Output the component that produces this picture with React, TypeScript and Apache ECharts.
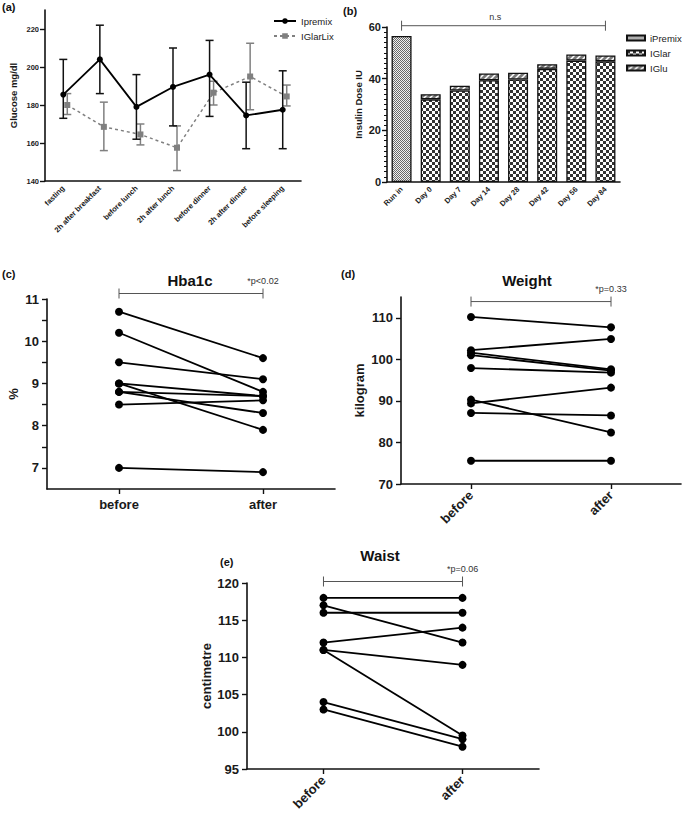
import React, { useEffect, useRef } from 'react';
import * as echarts from 'echarts';

// ---------- (a) glucose profile ----------
const glucoseCategories = ['fasting', '2h after breakfast', 'before lunch', '2h after lunch', 'before dinner', '2h after dinner', 'before sleeping'];
const ipremixMean = [185.5, 204, 179, 189.5, 196, 174.5, 177.5];
const ipremixLow = [173, 186, 162, 169, 174, 157, 157];
const ipremixHigh = [204, 222, 196, 210, 214, 192, 198];
const iglarlixMean = [180, 168.5, 164.5, 157.5, 186.5, 195, 184.5];
const iglarlixLow = [175, 156, 159, 145.5, 180, 177.5, 179.5];
const iglarlixHigh = [186, 181.5, 170, 169, 192.5, 212.5, 190.5];
const glucoseTicks = [140, 160, 180, 200, 220];

// ---------- (b) insulin dose ----------
const doseCategories = ['Run in', 'Day 0', 'Day 7', 'Day 14', 'Day 28', 'Day 42', 'Day 56', 'Day 84'];
const ipremixDose = [56.5, '-', '-', '-', '-', '-', '-', '-'];
const iglarDose = ['-', 32, 35.4, 39.4, 39.7, 43.8, 47, 46.7];
const igluDose = ['-', 2, 1.9, 2.6, 2.6, 1.8, 2.4, 2.3];

// ---------- (c) Hba1c ----------
const pairCategories = ['before', 'after'];
const hba1cBefore = [10.7, 10.2, 9.5, 9.0, 9.0, 8.8, 8.8, 8.5, 7.0];
const hba1cAfter = [9.6, 8.8, 9.1, 8.7, 7.9, 8.7, 8.3, 8.6, 6.9];
const hba1cLabels = [7, 8, 9, 10, 11];
const hba1cTicks = [7, 7.5, 8, 8.5, 9, 9.5, 10, 10.5, 11];

// ---------- (d) Weight ----------
const weightBefore = [110.2, 102.2, 101.6, 101.0, 97.9, 90.3, 89.4, 87.1, 75.6];
const weightAfter = [107.7, 104.9, 97.6, 97.3, 96.8, 82.4, 93.2, 86.5, 75.6];
const weightTicks = [70, 80, 90, 100, 110];

// ---------- (e) Waist ----------
const waistBefore = [118, 117, 116, 112, 111, 111, 104, 103];
const waistAfter = [118, 112, 116, 114, 109, 99.5, 99, 98];

// brackets: [fromIndex, toIndex, level, labelPosition]
const bracketB = [0, 7, 60.5, 0.46];
const bracketC = [0, 1, 11.13, 1];
const bracketD = [0, 1, 113.9, 1];
const bracketE = [0, 1, 120.2, 1];

const FONT = '"Liberation Sans", Arial, Helvetica, sans-serif';
const INK = '#111';

function makePattern(w: number, h: number, draw: (ctx: CanvasRenderingContext2D) => void) {
  const c = document.createElement('canvas');
  c.width = w;
  c.height = h;
  const ctx = c.getContext('2d')!;
  draw(ctx);
  return { image: c as any, repeat: 'repeat' as const };
}

const errRender = (color: string) => (params: any, api: any) => {
  const x = api.value(0);
  const hi = api.coord([x, api.value(2)]);
  const lo = api.coord([x, api.value(1)]);
  const w = 4;
  const style = { stroke: color, lineWidth: 1.5 };
  return {
    type: 'group',
    children: [
      { type: 'line', shape: { x1: hi[0], y1: hi[1], x2: lo[0], y2: lo[1] }, style },
      { type: 'line', shape: { x1: hi[0] - w, y1: hi[1], x2: hi[0] + w, y2: hi[1] }, style },
      { type: 'line', shape: { x1: lo[0] - w, y1: lo[1], x2: lo[0] + w, y2: lo[1] }, style },
    ],
  };
};

const bracketRender = (text: string, gap: number) => (params: any, api: any) => {
  const y = api.value(2);
  const a = api.coord([api.value(0), y]);
  const b = api.coord([api.value(1), y]);
  const pos = api.value(3);
  const style = { stroke: '#555', lineWidth: 1 };
  const cap = 5;
  return {
    type: 'group',
    children: [
      { type: 'line', shape: { x1: a[0], y1: a[1], x2: b[0], y2: b[1] }, style },
      { type: 'line', shape: { x1: a[0], y1: a[1] - cap, x2: a[0], y2: a[1] + cap }, style },
      { type: 'line', shape: { x1: b[0], y1: b[1] - cap, x2: b[0], y2: b[1] + cap }, style },
      {
        type: 'text',
        x: a[0] + (b[0] - a[0]) * pos,
        y: a[1] - gap,
        style: { text, fill: '#333', font: `9px ${FONT}`, textAlign: 'center', textVerticalAlign: 'bottom' },
      },
    ],
  };
};

const axisLine = { onZero: false, lineStyle: { color: INK, width: 1.6 } };
const axisTick = (len: number) => ({ length: len, lineStyle: { color: INK, width: 1.4 } });

function pairSeries(before: number[], after: number[], axis: number) {
  return before.map((b, i) => ({
    type: 'line',
    xAxisIndex: axis,
    yAxisIndex: axis,
    data: [[0, b], [1, after[i]]],
    symbol: 'circle',
    symbolSize: 8,
    itemStyle: { color: '#000' },
    lineStyle: { color: '#000', width: 1.8 },
    z: 3,
  }));
}

export default function App() {
  const ref = useRef<HTMLDivElement>(null);
  useEffect(() => {
    const chart = echarts.init(ref.current!, undefined, { renderer: 'svg' });

    const premixPat = makePattern(2, 2, (ctx) => {
      ctx.fillStyle = '#f2f2f2';
      ctx.fillRect(0, 0, 2, 2);
      ctx.fillStyle = '#6a6a6a';
      ctx.fillRect(0, 0, 1, 1);
      ctx.fillRect(1, 1, 1, 1);
    });
    const glarPat = makePattern(6, 6, (ctx) => {
      ctx.fillStyle = '#ffffff';
      ctx.fillRect(0, 0, 6, 6);
      ctx.fillStyle = '#333333';
      ctx.fillRect(0, 0, 3, 3);
      ctx.fillRect(3, 3, 3, 3);
    });
    const gluPat = makePattern(6, 6, (ctx) => {
      ctx.fillStyle = '#7a7a7a';
      ctx.fillRect(0, 0, 6, 6);
      ctx.strokeStyle = '#ffffff';
      ctx.lineWidth = 1.5;
      ctx.beginPath();
      ctx.moveTo(-1, 7); ctx.lineTo(7, -1);
      ctx.moveTo(-4, 4); ctx.lineTo(4, -4);
      ctx.moveTo(2, 10); ctx.lineTo(10, 2);
      ctx.stroke();
    });

    const valueLabel = (size: number) => ({ color: '#1a1a1a', fontSize: size, fontWeight: 'bold' as const, fontFamily: FONT });

    const option: any = {
      animation: false,
      backgroundColor: '#ffffff',
      textStyle: { fontFamily: FONT },
      grid: [
        { left: 45, top: 10, width: 256, height: 171 },
        { left: 49, top: 10, width: 256, height: 171 },
        { left: 387, top: 27, width: 233, height: 155 },
        { left: 47, top: 299, width: 288, height: 190 },
        { left: 401, top: 297, width: 280, height: 187 },
        { left: 247, top: 583, width: 292, height: 186 },
      ],
      xAxis: [
        {
          type: 'category', gridIndex: 0, data: glucoseCategories,
          axisLine, axisTick: { ...axisTick(5), alignWithLabel: true },
          axisLabel: { ...valueLabel(7.5), rotate: 45, margin: 6, interval: 0 },
        },
        { type: 'category', gridIndex: 1, data: glucoseCategories, show: false },
        {
          type: 'category', gridIndex: 2, data: doseCategories,
          axisLine, axisTick: { ...axisTick(5), alignWithLabel: true },
          axisLabel: { ...valueLabel(7.5), rotate: 45, margin: 6, interval: 0 },
        },
        {
          type: 'value', gridIndex: 3, min: -0.5, max: 1.5,
          axisLine, axisTick: { ...axisTick(5), customValues: [0, 1] }, splitLine: { show: false },
          axisLabel: { ...valueLabel(13), margin: 9, customValues: [0, 1], formatter: (v: number) => pairCategories[v] },
        },
        {
          type: 'value', gridIndex: 4, min: -0.5, max: 1.5,
          axisLine, axisTick: { ...axisTick(5), customValues: [0, 1] }, splitLine: { show: false },
          axisLabel: { ...valueLabel(13), rotate: 45, margin: 9, customValues: [0, 1], formatter: (v: number) => pairCategories[v] },
        },
        {
          type: 'value', gridIndex: 5, min: -0.55, max: 1.55,
          axisLine, axisTick: { ...axisTick(5), customValues: [0, 1] }, splitLine: { show: false },
          axisLabel: { ...valueLabel(13), rotate: 45, margin: 9, customValues: [0, 1], formatter: (v: number) => pairCategories[v] },
        },
      ],
      yAxis: [
        {
          type: 'value', gridIndex: 0, min: 140, max: 230,
          name: 'Glucose mg/dl', nameLocation: 'middle', nameGap: 27,
          nameTextStyle: { ...valueLabel(9.5) },
          axisLine: { ...axisLine, show: true }, axisTick: { ...axisTick(5), show: true, customValues: glucoseTicks },
          axisLabel: { ...valueLabel(7.5), margin: 6, customValues: glucoseTicks },
          splitLine: { show: false },
        },
        { type: 'value', gridIndex: 1, min: 140, max: 230, show: false, splitLine: { show: false } },
        {
          type: 'value', gridIndex: 2, min: 0, max: 60, interval: 20,
          name: 'Insulin Dose IU', nameLocation: 'middle', nameGap: 24,
          nameTextStyle: { ...valueLabel(9.5) },
          axisLine: { ...axisLine, show: true }, axisTick: { ...axisTick(5), show: true },
          minorTick: { show: true, splitNumber: 10, length: 3, lineStyle: { color: INK, width: 1 } },
          axisLabel: { ...valueLabel(11), margin: 6 },
          splitLine: { show: false },
        },
        {
          type: 'value', gridIndex: 3, min: 6.5, max: 11,
          name: '%', nameLocation: 'middle', nameGap: 27,
          nameTextStyle: { ...valueLabel(13) },
          axisLine: { ...axisLine, show: true }, axisTick: { ...axisTick(5), show: true, customValues: hba1cTicks },
          axisLabel: { ...valueLabel(13), margin: 8, customValues: hba1cLabels },
          splitLine: { show: false },
        },
        {
          type: 'value', gridIndex: 4, min: 70, max: 115,
          name: 'kilogram', nameLocation: 'middle', nameGap: 35,
          nameTextStyle: { ...valueLabel(13) },
          axisLine: { ...axisLine, show: true }, axisTick: { ...axisTick(5), show: true, customValues: weightTicks },
          axisLabel: { ...valueLabel(13), margin: 8, customValues: weightTicks },
          splitLine: { show: false },
        },
        {
          type: 'value', gridIndex: 5, min: 95, max: 120, interval: 5,
          name: 'centimetre', nameLocation: 'middle', nameGap: 30,
          nameTextStyle: { ...valueLabel(13) },
          axisLine: { ...axisLine, show: true }, axisTick: { ...axisTick(5), show: true },
          axisLabel: { ...valueLabel(13), margin: 8 },
          splitLine: { show: false },
        },
      ],
      legend: [
        {
          data: ['Ipremix', 'IGlarLix'], left: 268, top: 11, orient: 'vertical',
          itemWidth: 22, itemHeight: 7, itemGap: 5,
          textStyle: { fontSize: 9.5, color: '#222', fontFamily: FONT },
        },
        {
          data: ['iPremix', 'IGlar', 'IGlu'], left: 621, top: 28, orient: 'vertical', icon: 'rect',
          itemWidth: 18, itemHeight: 5, itemGap: 5,
          textStyle: { fontSize: 9.5, color: '#222', fontFamily: FONT },
        },
      ],
      graphic: [
        { type: 'text', x: 2, y: 7, style: { text: '(a)', font: `bold 11px ${FONT}`, fill: INK, textVerticalAlign: 'middle' } },
        { type: 'text', x: 343, y: 11, style: { text: '(b)', font: `bold 11px ${FONT}`, fill: INK, textVerticalAlign: 'middle' } },
        { type: 'text', x: 2, y: 274, style: { text: '(c)', font: `bold 11px ${FONT}`, fill: INK, textVerticalAlign: 'middle' } },
        { type: 'text', x: 341, y: 274, style: { text: '(d)', font: `bold 11px ${FONT}`, fill: INK, textVerticalAlign: 'middle' } },
        { type: 'text', x: 220, y: 562, style: { text: '(e)', font: `bold 11px ${FONT}`, fill: INK, textVerticalAlign: 'middle' } },
        { type: 'text', x: 190, y: 280, style: { text: 'Hba1c', font: `bold 15px ${FONT}`, fill: INK, textAlign: 'center', textVerticalAlign: 'middle' } },
        { type: 'text', x: 527, y: 280, style: { text: 'Weight', font: `bold 15px ${FONT}`, fill: INK, textAlign: 'center', textVerticalAlign: 'middle' } },
        { type: 'text', x: 380, y: 555, style: { text: 'Waist', font: `bold 15px ${FONT}`, fill: INK, textAlign: 'center', textVerticalAlign: 'middle' } },
      ],
      series: [
        {
          type: 'custom', xAxisIndex: 1, yAxisIndex: 1, renderItem: errRender('#808080'),
          data: iglarlixMean.map((_, i) => [i, iglarlixLow[i], iglarlixHigh[i]]), z: 2,
        },
        {
          name: 'IGlarLix', type: 'line', xAxisIndex: 1, yAxisIndex: 1, data: iglarlixMean,
          symbol: 'rect', symbolSize: 6, itemStyle: { color: '#808080' },
          lineStyle: { color: '#808080', width: 1.5, type: [3, 3] }, z: 3,
        },
        {
          type: 'custom', xAxisIndex: 0, yAxisIndex: 0, renderItem: errRender('#111'),
          data: ipremixMean.map((_, i) => [i, ipremixLow[i], ipremixHigh[i]]), z: 4,
        },
        {
          name: 'Ipremix', type: 'line', xAxisIndex: 0, yAxisIndex: 0, data: ipremixMean,
          symbol: 'circle', symbolSize: 6, itemStyle: { color: '#000' },
          lineStyle: { color: '#000', width: 1.8 }, z: 5,
        },
        {
          name: 'iPremix', type: 'bar', stack: 'dose', xAxisIndex: 2, yAxisIndex: 2, data: ipremixDose,
          barWidth: 20, itemStyle: { color: premixPat, borderColor: INK, borderWidth: 1.3 },
        },
        {
          name: 'IGlar', type: 'bar', stack: 'dose', xAxisIndex: 2, yAxisIndex: 2, data: iglarDose,
          barWidth: 20, itemStyle: { color: glarPat, borderColor: INK, borderWidth: 1.3 },
        },
        {
          name: 'IGlu', type: 'bar', stack: 'dose', xAxisIndex: 2, yAxisIndex: 2, data: igluDose,
          barWidth: 20, itemStyle: { color: gluPat, borderColor: INK, borderWidth: 1.3 },
        },
        { type: 'custom', xAxisIndex: 2, yAxisIndex: 2, renderItem: bracketRender('n.s', 4), data: [bracketB], clip: false },
        ...pairSeries(hba1cBefore, hba1cAfter, 3),
        { type: 'custom', xAxisIndex: 3, yAxisIndex: 3, renderItem: bracketRender('*p<0.02', 8), data: [bracketC], clip: false },
        ...pairSeries(weightBefore, weightAfter, 4),
        { type: 'custom', xAxisIndex: 4, yAxisIndex: 4, renderItem: bracketRender('*p=0.33', 8), data: [bracketD], clip: false },
        ...pairSeries(waistBefore, waistAfter, 5),
        { type: 'custom', xAxisIndex: 5, yAxisIndex: 5, renderItem: bracketRender('*p=0.06', 8), data: [bracketE], clip: false },
      ],
    };
    chart.setOption(option);
    return () => chart.dispose();
  }, []);
  return <div ref={ref} style={{ position: 'absolute', left: 0, top: 0, width: 685, height: 821 }} />;
}
